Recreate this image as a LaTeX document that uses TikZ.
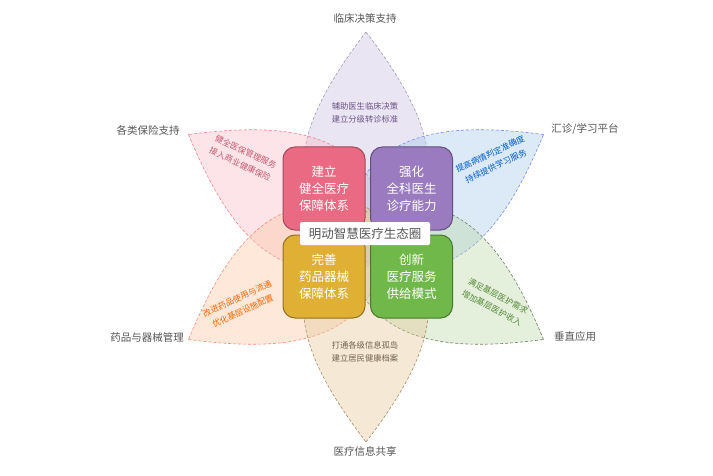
\documentclass[tikz,border=0pt]{standalone}
\usepackage{fontspec}
\setmainfont{Noto Sans CJK SC}

\definecolor{leafpink}{RGB}{247,187,197}
\definecolor{leafviolet}{RGB}{200,190,225}
\definecolor{leafblue}{RGB}{168,200,235}
\definecolor{leafgreen}{RGB}{188,215,168}
\definecolor{leafsand}{RGB}{230,200,153}
\definecolor{leafpeach}{RGB}{250,198,163}
\definecolor{quadpink}{RGB}{233,106,130}
\definecolor{quadviolet}{RGB}{154,123,191}
\definecolor{quadyellow}{RGB}{224,176,52}
\definecolor{quadgreen}{RGB}{113,184,74}
\definecolor{labelgray}{RGB}{85,85,85}

\tikzset{
	leaf/.style={line width=0.6pt, dash pattern=on 3pt off 2pt, fill opacity=0.4},
	quad/.style={draw, line width=1pt, rounded corners=12pt, minimum width=82pt,
		minimum height=83pt, text=white, align=center,
		font=\fontsize{12.5}{17}\selectfont},
	leaftext/.style={align=center, font=\fontsize{8.3}{13.5}\selectfont},
	outer/.style={text=labelgray, font=\fontsize{10.5}{12}\selectfont}
}

\begin{document}
\begin{tikzpicture}[x=1pt, y=1pt]
		\useasboundingbox (0,0) rectangle (713,475);
		% petals
		\begin{scope}[shift={(366,238)}, rotate=90]
			\draw [leaf, fill=leafviolet, draw=leafviolet!80!black]
				(205,0) .. controls (120,65) and (40,100) .. (-30,0)
				.. controls (40,-100) and (120,-65) .. (205,0) -- cycle;
		\end{scope}
		\begin{scope}[shift={(366,238)}, rotate=150]
			\draw [leaf, fill=leafpink, draw=leafpink!70!red]
				(205,0) .. controls (120,65) and (40,100) .. (-30,0)
				.. controls (40,-100) and (120,-65) .. (205,0) -- cycle;
		\end{scope}
		\begin{scope}[shift={(366,238)}, rotate=30]
			\draw [leaf, fill=leafblue, draw=leafblue!70!blue]
				(205,0) .. controls (120,65) and (40,100) .. (-30,0)
				.. controls (40,-100) and (120,-65) .. (205,0) -- cycle;
		\end{scope}
		\begin{scope}[shift={(366,238)}, rotate=210]
			\draw [leaf, fill=leafpeach, draw=leafpeach!70!red]
				(205,0) .. controls (120,65) and (40,100) .. (-30,0)
				.. controls (40,-100) and (120,-65) .. (205,0) -- cycle;
		\end{scope}
		\begin{scope}[shift={(366,238)}, rotate=-30]
			\draw [leaf, fill=leafgreen, draw=leafgreen!60!black]
				(205,0) .. controls (120,65) and (40,100) .. (-30,0)
				.. controls (40,-100) and (120,-65) .. (205,0) -- cycle;
		\end{scope}
		\begin{scope}[shift={(366,238)}, rotate=-90]
			\draw [leaf, fill=leafsand, draw=leafsand!70!black]
				(205,0) .. controls (120,65) and (40,100) .. (-30,0)
				.. controls (40,-100) and (120,-65) .. (205,0) -- cycle;
		\end{scope}

		% four quadrants
		\node [quad, fill=quadpink, draw=quadpink!70!black] (jianli) at (324,286.5) {建立\\健全医疗\\保障体系};
		\node [quad, fill=quadviolet, draw=quadviolet!65!black] (qianghua) at (411.5,286.5) {强化\\全科医生\\诊疗能力};
		\node [quad, fill=quadyellow, draw=quadyellow!65!black] (wanshan) at (324,198.5) {完善\\药品器械\\保障体系};
		\node [quad, fill=quadgreen, draw=quadgreen!65!black] (chuangxin) at (411.5,198.5) {创新\\医疗服务\\供给模式};
		\node [fill=white, rounded corners=2pt, minimum width=130pt, minimum height=23pt,
			text=labelgray, font=\fontsize{12.5}{14}\selectfont] (title) at (365,241.5) {明动智慧医疗生态圈};

		% petal texts
		\node [leaftext, text=quadviolet!70!black] (t_top) at (365,362) {辅助医生临床决策\\建立分级转诊标准};
		\node [leaftext, text=quadpink!85!black, rotate=-25] (t_pink) at (243,317) {健全医保管理服务\\接入商业健康保险};
		\node [leaftext, text=blue!55!cyan!80!black, rotate=25] (t_blue) at (493,315) {提高病情判定准确度\\持续提供学习服务};
		\node [leaftext, text=orange!80!red, rotate=25] (t_peach) at (240,170) {改进药品使用与流通\\优化基层设施配置};
		\node [leaftext, text=quadgreen!75!black, rotate=-28] (t_green) at (495,173) {满足基层医护需求\\增加基层医护收入};
		\node [leaftext, text=leafsand!50!black] (t_bottom) at (365,123) {打通各级信息孤岛\\建立居民健康档案};

		% outer labels
		\node [outer] (l_top) at (365,457) {临床决策支持};
		\node [outer] (l_ul) at (148,345) {各类保险支持};
		\node [outer] (l_ur) at (585,346) {汇诊/学习平台};
		\node [outer] (l_ll) at (147,138) {药品与器械管理};
		\node [outer] (l_lr) at (575,138) {垂直应用};
		\node [outer] (l_bottom) at (365,24) {医疗信息共享};
	\end{tikzpicture}
\end{document}
